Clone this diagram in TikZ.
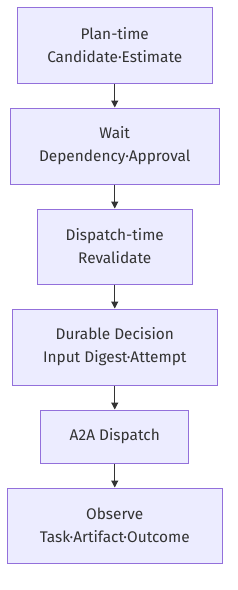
\documentclass[tikz,border=0pt]{standalone}
\usepackage{fontspec}
\setmainfont{Fira Sans}
\usetikzlibrary{arrows.meta}
\definecolor{boxfill}{HTML}{ECECFF}
\definecolor{boxline}{HTML}{9370DB}
\definecolor{arrowc}{HTML}{333333}
\definecolor{textc}{HTML}{333333}
\begin{document}
\begin{tikzpicture}[x=1pt,y=-1pt,
  box/.style={draw=boxline,fill=boxfill,line width=1pt,inner sep=0pt,align=center,
    font=\fontsize{15.4}{23}\selectfont,text=textc},
  link/.style={draw=arrowc,line width=1.2pt,-{Triangle[width=7pt,length=7pt]}}]
\useasboundingbox (0,0) rectangle (238,590);
\node[box,minimum width=194.5pt,minimum height=76pt] (a) at (114.75,45) {Plan-time\\Candidate·Estimate};
\node[box,minimum width=209.5pt,minimum height=76pt] (b) at (114.75,146) {Wait\\Dependency·Approval};
\node[box,minimum width=155.5pt,minimum height=75pt] (c) at (114.75,246.5) {Dispatch-time\\Revalidate};
\node[box,minimum width=204.5pt,minimum height=76pt] (d) at (114.75,347) {Durable Decision\\Input Digest·Attempt};
\node[box,minimum width=148pt,minimum height=53pt] (e) at (114.75,436.5) {A2A Dispatch};
\node[box,minimum width=214.5pt,minimum height=75pt] (f) at (114.75,525.5) {Observe\\Task·Artifact·Outcome};
\draw[link] (a) -- (b);
\draw[link] (b) -- (c);
\draw[link] (c) -- (d);
\draw[link] (d) -- (e);
\draw[link] (e) -- (f);
\end{tikzpicture}
\end{document}
